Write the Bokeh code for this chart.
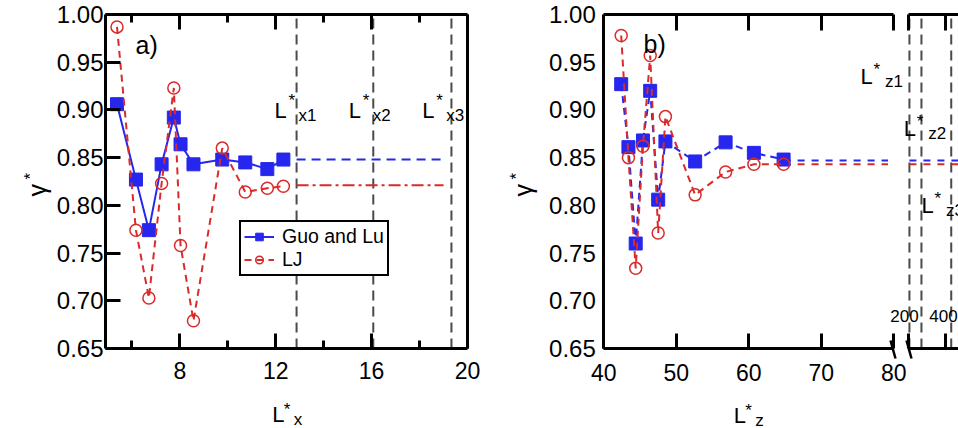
import numpy as np
from bokeh.plotting import figure
from bokeh.models import (Range1d, FixedTicker, LinearAxis, Label, Legend, LegendItem,
                          NumeralTickFormatter, CustomJSTickFormatter)
from bokeh.layouts import row
from bokeh.embed import file_html
from bokeh.resources import INLINE

# ---------------- data ----------------
# panel a) : gamma* versus L*_x
lx_sizes = [5.38, 6.17, 6.71, 7.24, 7.75, 8.03, 8.57, 9.77, 10.73, 11.65, 12.32]
gamma_guo_x = [0.906, 0.827, 0.774, 0.843, 0.892, 0.864, 0.843, 0.848, 0.845, 0.838, 0.848]
gamma_lj_x = [0.987, 0.774, 0.703, 0.823, 0.923, 0.758, 0.679, 0.860, 0.814, 0.818, 0.820]
lx_marks = [12.87, 16.07, 19.33]
lx_names = ["x1", "x2", "x3"]
asym_x_extent = [12.87, 19.0]
asym_guo_x = 0.848
asym_lj_x = 0.821

# panel b) : gamma* versus L*_z (broken axis)
lz_sizes = [42.4, 43.4, 44.4, 45.4, 46.4, 47.5, 48.5, 52.6, 56.8, 60.7, 64.8]
gamma_guo_z = [0.927, 0.861, 0.760, 0.868, 0.920, 0.806, 0.867, 0.846, 0.866, 0.855, 0.848]
gamma_lj_z = [0.978, 0.850, 0.734, 0.862, 0.957, 0.771, 0.893, 0.811, 0.835, 0.843, 0.843]
lz_marks = [205, 270, 431]
lz_names = ["z1", "z2", "z3"]
asym_z_extent_left = [64.8, 79.2]
asym_guo_z = 0.847
asym_lj_z = 0.843
break_ticks = [200, 400]
break_labels = ["200", "400"]

y_ticks = [0.65, 0.70, 0.75, 0.80, 0.85, 0.90, 0.95, 1.00]
xa_major = [8, 12, 16, 20]
xa_minor = [6, 10, 14, 18]
xb_major = [40, 50, 60, 70, 80]
xb_top = [50, 60, 70, 80]

# ---------------- style ----------------
FONT = "Liberation Sans"
BLUE = "#2626EE"
RED = "#DA2A2A"
GREY = "#4a4a4a"
X_TICK_FS = "23px"
Y_TICK_FS = "24px"

H = 428
# frame geometry (page px): y 1.00 at 14, 0.65 at 348
PX_PER_Y = 334 / 0.35
YR = Range1d(0.65 - (H - 348) / PX_PER_Y, 1.0 + 14 / PX_PER_Y)

# panel a canvas 0..480, x 4.9 at px 105, 20 at px 467
W_A = 480
PXA = 362 / 15.1
XR_A = Range1d(4.9 - 105 / PXA, 20 + (W_A - 467) / PXA)

# panel b canvas 480..958, x 40 at page 603.3, 7.25 px / unit
W_B = 478
PXB = 7.25
XR_B = Range1d(40 - (603.3 - 480) / PXB, 40 + (958 - 603.3) / PXB)


def ya_(py):
    return 1.0 - (py - 14) / PX_PER_Y


def xa_(px):
    return 4.9 + (px - 105) / PXA


def xb_(px):
    return 40 + (px - 603.3) / PXB


# second scale behind the break: 200 at page 908, 400 at page 945
s200, s400 = xb_(908), xb_(945)
k = (s400 - s200) / 200.0
SEG = Range1d(200 + (XR_B.start - s200) / k, 200 + (XR_B.end - s200) / k)

EMPTY = CustomJSTickFormatter(code="return ''")


def base_fig(width, xr):
    p = figure(width=width, height=H, x_range=xr, y_range=Range1d(YR.start, YR.end),
               output_backend="svg", toolbar_location=None,
               x_axis_location=None, y_axis_location=None,
               min_border_left=0, min_border_right=0, min_border_top=0, min_border_bottom=0)
    p.grid.visible = False
    p.outline_line_color = None
    p.background_fill_color = "white"
    p.border_fill_color = "white"
    return p


def make_axis(ticks, minor=None, loc=None, bounds=None, labels=True, fmt=None, standoff=5,
              tick_in=15, line=True, size=X_TICK_FS, **kw):
    ticker = FixedTicker(ticks=ticks, minor_ticks=minor or [])
    ax = LinearAxis(ticker=ticker, fixed_location=loc, bounds=bounds, **kw)
    if not labels:
        ax.formatter = EMPTY
    elif fmt is not None:
        ax.formatter = fmt
    ax.major_label_text_font = FONT
    ax.major_label_text_font_size = size
    ax.major_label_text_color = "black"
    ax.major_label_standoff = standoff
    ax.major_tick_in = tick_in
    ax.major_tick_out = 0
    ax.major_tick_line_width = 3
    ax.major_tick_line_color = "black" if tick_in > 0 else None
    ax.minor_tick_in = 8
    ax.minor_tick_out = 0
    ax.minor_tick_line_width = 3
    ax.minor_tick_line_color = "black"
    ax.axis_line_width = 3
    ax.axis_line_color = "black" if line else None
    return ax


def add_text(p, x, y, text, size, **kw):
    p.add_layout(Label(x=x, y=y, text=text, text_font=FONT, text_font_size=size,
                       text_color="black", text_baseline="alphabetic", **kw))


def add_lstar(p, xl, yb, sub, xf, big="22px", small="17px", dstar=14, dsub=24, up=10,
              down=4.5):
    add_text(p, xf(xl), ya_(yb), "L", big)
    add_text(p, xf(xl + dstar), ya_(yb - up), "*", small)
    add_text(p, xf(xl + dsub), ya_(yb + down), sub, small)


def add_gamma(p, xf, bx, by):
    add_text(p, xf(bx), ya_(by), "\u03b3", "25px", angle=np.pi / 2)
    add_text(p, xf(bx - 6), ya_(by - 17), "*", "17px", angle=np.pi / 2)


FMT2 = NumeralTickFormatter(format="0.00")

# ---------------- panel a ----------------
pa = base_fig(W_A, XR_A)
pa.add_layout(make_axis(y_ticks, loc=4.9, bounds=(0.65, 1.0), fmt=FMT2, standoff=2,
                        size=Y_TICK_FS), "left")
pa.add_layout(make_axis([], loc=20.0, bounds=(0.65, 1.0), labels=False), "right")
pa.add_layout(make_axis(xa_major, xa_minor, loc=0.65, bounds=(4.9, 20.0), standoff=13), "below")
pa.add_layout(make_axis(xa_major, xa_minor, loc=1.0, bounds=(4.9, 20.0), labels=False,
                        standoff=0), "above")

n = len(lx_marks)
pa.segment(x0=lx_marks, y0=[0.65] * n, x1=lx_marks, y1=[1.0] * n,
           line_color=GREY, line_width=2, line_dash="10 6")
pa.segment(x0=[asym_x_extent[0]], y0=[asym_guo_x], x1=[asym_x_extent[1]], y1=[asym_guo_x],
           line_color=BLUE, line_width=2, line_dash="9 6")
pa.segment(x0=[asym_x_extent[0]], y0=[asym_lj_x], x1=[asym_x_extent[1]], y1=[asym_lj_x],
           line_color=RED, line_width=2, line_dash="12 4 3 4")

la1 = pa.line(lx_sizes, gamma_guo_x, line_color=BLUE, line_width=2)
sa1 = pa.scatter(lx_sizes, gamma_guo_x, marker="square", size=13, fill_color=BLUE,
                 line_color=BLUE)
la2 = pa.line(lx_sizes, gamma_lj_x, line_color=RED, line_width=2, line_dash="7 5")
sa2 = pa.scatter(lx_sizes, gamma_lj_x, marker="circle", size=12, fill_color=None,
                 line_color=RED, line_width=1.5)

legend = Legend(items=[LegendItem(label="Guo and Lu", renderers=[la1, sa1]),
                       LegendItem(label="LJ", renderers=[la2, sa2])],
                location=(239, H - 276), orientation="vertical")
legend.label_text_font = FONT
legend.label_text_font_size = "19.5px"
legend.label_text_color = "black"
legend.glyph_width = 30
legend.glyph_height = 19
legend.label_height = 19
legend.spacing = 0
legend.padding = 3
legend.margin = 0
legend.label_standoff = 8
legend.border_line_color = "black"
legend.border_line_alpha = 1.0
legend.border_line_width = 2
legend.background_fill_color = "white"
legend.background_fill_alpha = 1.0
pa.add_layout(legend)

add_text(pa, xa_(135), ya_(44), "a)", "25px")
for xl, nm in zip([274, 348.3, 421.7], lx_names):
    add_lstar(pa, xl, 110, nm, xa_)
add_lstar(pa, 271.7, 413.5, "x", xa_, dstar=11.5, dsub=21.5, up=4.5, down=5)
add_gamma(pa, xa_, 36, 196)

# ---------------- panel b ----------------
pb = base_fig(W_B, XR_B)
pb.extra_x_ranges = {"seg": SEG}

pb.add_layout(make_axis(y_ticks, loc=40, bounds=(0.65, 1.0), fmt=FMT2, standoff=8, tick_in=0,
                        size=Y_TICK_FS), "left")
pb.add_layout(make_axis(xb_major, loc=0.65, bounds=(40, 80), standoff=15), "below")
pb.add_layout(make_axis(xb_top, loc=1.0, bounds=(40, 80), labels=False, standoff=0, tick_in=16),
              "above")
# axis pieces after the break
pb.add_layout(make_axis(break_ticks, loc=0.65, bounds=(200, SEG.end), labels=False, standoff=0,
                        x_range_name="seg"), "below")
pb.add_layout(make_axis(break_ticks, loc=1.0, bounds=(200, SEG.end), labels=False, standoff=0,
                        tick_in=16, x_range_name="seg"), "above")

# break marks
pb.segment(x0=[xb_(890), xb_(906)], y0=[ya_(340)] * 2, x1=[xb_(895), xb_(911)],
           y1=[ya_(358)] * 2, line_color="black", line_width=2.5)

m = len(lz_marks)
pb.segment(x0=lz_marks, y0=[0.65] * m, x1=lz_marks, y1=[1.0] * m, line_color=GREY,
           line_width=2, line_dash="10 6", x_range_name="seg")
pb.segment(x0=[asym_z_extent_left[0]] * 2, y0=[asym_guo_z, asym_lj_z],
           x1=[asym_z_extent_left[1]] * 2, y1=[asym_guo_z, asym_lj_z],
           line_color=[BLUE, RED], line_width=2, line_dash="7 7")
pb.segment(x0=[lz_marks[0]] * 2, y0=[asym_guo_z, asym_lj_z], x1=[SEG.end] * 2,
           y1=[asym_guo_z, asym_lj_z], line_color=[BLUE, RED], line_width=2, line_dash="7 7",
           x_range_name="seg")

pb.line(lz_sizes, gamma_guo_z, line_color=BLUE, line_width=2, line_dash="7 5")
pb.scatter(lz_sizes, gamma_guo_z, marker="square", size=13, fill_color=BLUE, line_color=BLUE)
pb.line(lz_sizes, gamma_lj_z, line_color=RED, line_width=2, line_dash="7 5")
pb.scatter(lz_sizes, gamma_lj_z, marker="circle", size=12, fill_color=None, line_color=RED,
           line_width=1.5)

for v, t, off in zip(break_ticks, break_labels, (-4, -2)):
    pb.add_layout(Label(x=v, y=ya_(315), text=t, text_font=FONT, text_font_size="17px",
                        text_color="black", text_align="center", text_baseline="alphabetic",
                        x_offset=off, x_range_name="seg"))

add_text(pb, xb_(643), ya_(43.5), "b)", "25px")
for xl, yl, nm in zip([860, 903.3, 921], [76, 127.7, 205], lz_names):
    add_lstar(pb, xl, yl, nm, xb_, dstar=13, dsub=24.5, up=7, down=5)
add_lstar(pb, 733.3, 414.5, "z", xb_, dstar=11.5, dsub=21.5, up=4.5, down=5)
add_gamma(pb, xb_, 522, 196)

layout = row(pa, pb, spacing=0)
open("out.html", "w").write(file_html(layout, INLINE))
